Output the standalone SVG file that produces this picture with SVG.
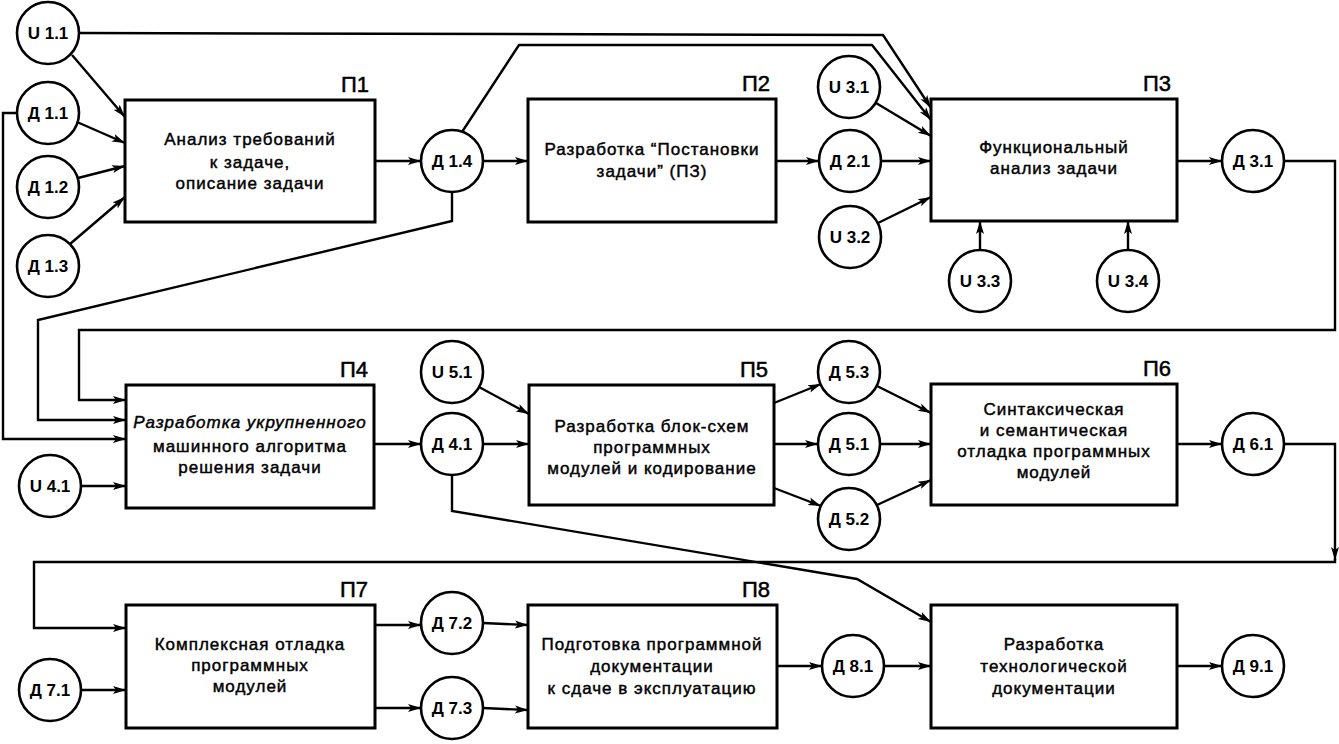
<svg xmlns="http://www.w3.org/2000/svg" width="1339" height="744" viewBox="0 0 1339 744">
<style>
.bx{fill:#fff;stroke:#000;stroke-width:3}
.cr{fill:#fff;stroke:#000;stroke-width:2.6}
.ct{font-family:"Liberation Sans",Arial,sans-serif;font-size:17px;font-weight:bold;text-anchor:middle}
.bt{font-family:"Liberation Sans",Arial,sans-serif;font-size:17px;text-anchor:middle;letter-spacing:1px;stroke:#000;stroke-width:0.45}
.pl{font-family:"Liberation Sans",Arial,sans-serif;font-size:22px;text-anchor:end;stroke:#000;stroke-width:0.5}
.ln{fill:none;stroke:#000;stroke-width:2.4;stroke-linejoin:miter}
.ar{marker-end:url(#ah)}
</style>
<defs>
<marker id="ah" markerUnits="userSpaceOnUse" markerWidth="14" markerHeight="10" viewBox="0 0 14 10" refX="13" refY="5" orient="auto">
<path d="M0,1 L13,5 L0,9 L3,5 Z" fill="#000"/>
</marker>
</defs>
<rect width="1339" height="744" fill="#fff"/>
<g id="connectors">
<path class="ln ar" d="M72,55 L125,117"/>
<path class="ln ar" d="M79,33 L883,35 L931,108"/>
<path class="ln ar" d="M462,132 L519,45 L872,45 L931,120"/>
<path class="ln ar" d="M77,122 L125,143"/>
<path class="ln ar" d="M78,178 L125,166"/>
<path class="ln ar" d="M70,244 L125,197"/>
<path class="ln ar" d="M375,161 L421,161"/>
<path class="ln ar" d="M483,161 L528,161"/>
<path class="ln ar" d="M776,161 L819,161"/>
<path class="ln ar" d="M881,161 L931,161"/>
<path class="ln ar" d="M876,103 L931,136"/>
<path class="ln ar" d="M878,223 L931,197"/>
<path class="ln ar" d="M980,250 L980,221"/>
<path class="ln ar" d="M1128,250 L1128,221"/>
<path class="ln ar" d="M1177,161 L1222,161"/>
<path class="ln ar" d="M1284,161 L1335,161 L1335,330 L79,330 L79,400 L126,400"/>
<path class="ln ar" d="M452,192 L452,221 L38,320 L38,420 L126,420"/>
<path class="ln ar" d="M17,113 L3,113 L3,439 L126,439"/>
<path class="ln ar" d="M81,486 L126,486"/>
<path class="ln ar" d="M374,444 L421,444"/>
<path class="ln ar" d="M479,387 L529,414"/>
<path class="ln ar" d="M483,444 L529,444"/>
<path class="ln ar" d="M452,475 L452,511 L857,579 L931,622"/>
<path class="ln ar" d="M774,403 L821,384"/>
<path class="ln ar" d="M774,444 L818,444"/>
<path class="ln ar" d="M774,488 L821,506"/>
<path class="ln ar" d="M877,386 L931,413"/>
<path class="ln ar" d="M880,444 L931,444"/>
<path class="ln ar" d="M877,505 L931,480"/>
<path class="ln ar" d="M1177,444 L1222,444"/>
<path class="ln ar" d="M1284,444 L1335,444 L1335,560"/>
<path class="ln ar" d="M1335,559 L1335,562 L34,562 L34,628 L126,628"/>
<path class="ln ar" d="M81,690 L126,690"/>
<path class="ln ar" d="M375,625 L421,625"/>
<path class="ln ar" d="M375,708 L421,708"/>
<path class="ln ar" d="M483,623 L528,625"/>
<path class="ln ar" d="M483,708 L528,710"/>
<path class="ln ar" d="M777,666 L822,666"/>
<path class="ln ar" d="M884,666 L931,666"/>
<path class="ln ar" d="M1177,666 L1222,666"/>
</g>
<g id="P1"><rect class="bx" x="125" y="100" width="250" height="122"/><text class="pl" x="369" y="92">П1</text>
<text class="bt" x="250" y="145">Анализ требований</text><text class="bt" x="250" y="168">к задаче,</text><text class="bt" x="250" y="189">описание задачи</text></g>
<g id="P2"><rect class="bx" x="528" y="99" width="248" height="123"/><text class="pl" x="770" y="91">П2</text>
<text class="bt" x="652" y="155">Разработка “Постановки</text><text class="bt" x="652" y="177">задачи” (ПЗ)</text></g>
<g id="P3"><rect class="bx" x="931" y="99" width="246" height="122"/><text class="pl" x="1171" y="91">П3</text>
<text class="bt" x="1054" y="153">Функциональный</text><text class="bt" x="1054" y="174">анализ задачи</text></g>
<g id="P4"><rect class="bx" x="126" y="385" width="248" height="123"/><text class="pl" x="368" y="377">П4</text>
<text class="bt" x="250" y="428" font-style="italic">Разработка укрупненного</text><text class="bt" x="250" y="452">машинного алгоритма</text><text class="bt" x="250" y="473">решения задачи</text></g>
<g id="P5"><rect class="bx" x="529" y="385" width="245" height="120"/><text class="pl" x="768" y="377">П5</text>
<text class="bt" x="652" y="432">Разработка блок-схем</text><text class="bt" x="652" y="453">программных</text><text class="bt" x="652" y="474">модулей и кодирование</text></g>
<g id="P6"><rect class="bx" x="931" y="384" width="246" height="121"/><text class="pl" x="1171" y="376">П6</text>
<text class="bt" x="1054" y="415">Синтаксическая</text><text class="bt" x="1054" y="436">и семантическая</text><text class="bt" x="1054" y="457">отладка программных</text><text class="bt" x="1054" y="478">модулей</text></g>
<g id="P7"><rect class="bx" x="126" y="605" width="249" height="123"/><text class="pl" x="368" y="597">П7</text>
<text class="bt" x="250" y="650">Комплексная отладка</text><text class="bt" x="250" y="671">программных</text><text class="bt" x="250" y="692">модулей</text></g>
<g id="P8"><rect class="bx" x="528" y="605" width="249" height="123"/><text class="pl" x="770" y="597">П8</text>
<text class="bt" x="652" y="650">Подготовка программной</text><text class="bt" x="652" y="672">документации</text><text class="bt" x="652" y="694">к сдаче в эксплуатацию</text></g>
<g id="P9"><rect class="bx" x="931" y="605" width="246" height="123"/>
<text class="bt" x="1054" y="650">Разработка</text><text class="bt" x="1054" y="672">технологической</text><text class="bt" x="1054" y="694">документации</text></g>
<g id="U1_1"><circle class="cr" cx="48" cy="33" r="31"/><text class="ct" x="48" y="39">U 1.1</text></g>
<g id="D1_1"><circle class="cr" cx="48" cy="113" r="31"/><text class="ct" x="48" y="119">Д 1.1</text></g>
<g id="D1_2"><circle class="cr" cx="48" cy="187" r="31"/><text class="ct" x="48" y="193">Д 1.2</text></g>
<g id="D1_3"><circle class="cr" cx="48" cy="266" r="31"/><text class="ct" x="48" y="272">Д 1.3</text></g>
<g id="D1_4"><circle class="cr" cx="452" cy="161" r="31"/><text class="ct" x="452" y="167">Д 1.4</text></g>
<g id="U3_1"><circle class="cr" cx="849" cy="87" r="31"/><text class="ct" x="849" y="93">U 3.1</text></g>
<g id="D2_1"><circle class="cr" cx="850" cy="161" r="31"/><text class="ct" x="850" y="167">Д 2.1</text></g>
<g id="U3_2"><circle class="cr" cx="850" cy="237" r="31"/><text class="ct" x="850" y="243">U 3.2</text></g>
<g id="U3_3"><circle class="cr" cx="980" cy="281" r="31"/><text class="ct" x="980" y="287">U 3.3</text></g>
<g id="U3_4"><circle class="cr" cx="1128" cy="281" r="31"/><text class="ct" x="1128" y="287">U 3.4</text></g>
<g id="D3_1"><circle class="cr" cx="1253" cy="161" r="31"/><text class="ct" x="1253" y="167">Д 3.1</text></g>
<g id="U4_1"><circle class="cr" cx="50" cy="486" r="31"/><text class="ct" x="50" y="492">U 4.1</text></g>
<g id="U5_1"><circle class="cr" cx="452" cy="372" r="31"/><text class="ct" x="452" y="378">U 5.1</text></g>
<g id="D4_1"><circle class="cr" cx="452" cy="444" r="31"/><text class="ct" x="452" y="450">Д 4.1</text></g>
<g id="D5_3"><circle class="cr" cx="849" cy="372" r="31"/><text class="ct" x="849" y="378">Д 5.3</text></g>
<g id="D5_1"><circle class="cr" cx="849" cy="444" r="31"/><text class="ct" x="849" y="450">Д 5.1</text></g>
<g id="D5_2"><circle class="cr" cx="849" cy="519" r="31"/><text class="ct" x="849" y="525">Д 5.2</text></g>
<g id="D6_1"><circle class="cr" cx="1253" cy="444" r="31"/><text class="ct" x="1253" y="450">Д 6.1</text></g>
<g id="D7_1"><circle class="cr" cx="50" cy="690" r="31"/><text class="ct" x="50" y="696">Д 7.1</text></g>
<g id="D7_2"><circle class="cr" cx="452" cy="623" r="31"/><text class="ct" x="452" y="629">Д 7.2</text></g>
<g id="D7_3"><circle class="cr" cx="452" cy="708" r="31"/><text class="ct" x="452" y="714">Д 7.3</text></g>
<g id="D8_1"><circle class="cr" cx="853" cy="666" r="31"/><text class="ct" x="853" y="672">Д 8.1</text></g>
<g id="D9_1"><circle class="cr" cx="1253" cy="666" r="31"/><text class="ct" x="1253" y="672">Д 9.1</text></g>
</svg>
